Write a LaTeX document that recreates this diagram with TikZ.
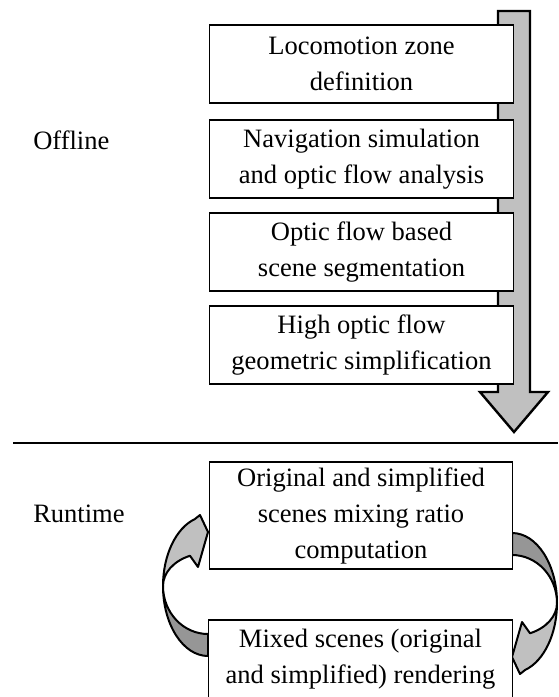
\documentclass[tikz,border=0pt]{standalone}
\usepackage{fontspec}
\setmainfont{Liberation Serif}
\usetikzlibrary{calc}
\definecolor{silverg}{RGB}{192,192,192}
\definecolor{darkg}{RGB}{150,150,150}
\begin{document}
\begin{tikzpicture}[x=0.75pt,y=0.75pt,
  stepbox/.style={draw=black, line width=0.9pt, fill=white, minimum width=227.5pt,
    minimum height=58.5pt, inner sep=0pt, align=center, font=\fontsize{19.9}{27}\selectfont},
  phaselabel/.style={inner sep=0pt, anchor=west, font=\fontsize{19.9}{27}\selectfont},
  arrowline/.style={draw=black, line width=1.5pt, line join=round},
  curvarrow/.pic={
    \filldraw[arrowline, fill=darkg] (0,70)
      arc[start angle=90, end angle=0, x radius=45, y radius=70]
      arc[start angle=0, end angle=90, x radius=45, y radius=48] -- cycle;
    \filldraw[arrowline, fill=silverg] (45,0)
      arc[start angle=0, end angle=-73, x radius=45, y radius=70]
      -- (8,-71) -- (0,-54) -- (10,-19) -- (18.01,-30.24)
      arc[start angle=-66.4, end angle=0, x radius=45, y radius=33] -- cycle;
  }]
\useasboundingbox (0,0) rectangle (558,-697);

% main downward arrow
\filldraw[fill=silverg, draw=black, line width=1.8pt, line join=miter]
  (498,-11) -- (530,-11) -- (530,-392) -- (548,-392) -- (514,-432)
  -- (480,-392) -- (498,-392) -- cycle;

% curved arrows (runtime loop)
\pic at (512,-603) {curvarrow};
\pic[rotate=180] at (208,-586) {curvarrow};

% offline steps
\node[stepbox] (b1) at (361.5,-64)  {Locomotion zone\\definition};
\node[stepbox] (b2) at (361.5,-159) {Navigation simulation\\and optic flow analysis};
\node[stepbox] (b3) at (361.5,-252) {Optic flow based\\scene segmentation};
\node[stepbox] (b4) at (361.5,-345) {High optic flow\\geometric simplification};

% runtime steps
\node[stepbox, minimum height=80.25pt] (b5) at (361,-515.5)
  {Original and simplified\\scenes mixing ratio\\computation};
\node[stepbox] (b6) at (360.5,-659) {Mixed scenes (original\\and simplified) rendering};

% labels
\node[phaselabel] (offline) at (33,-140) {Offline};
\node[phaselabel] (runtime) at (33,-514) {Runtime};

% separator
\coordinate (sepL) at (13,-443);
\coordinate (sepR) at (558,-443);
\draw[line width=1.5pt] (sepL) -- (sepR);
\end{tikzpicture}
\end{document}
